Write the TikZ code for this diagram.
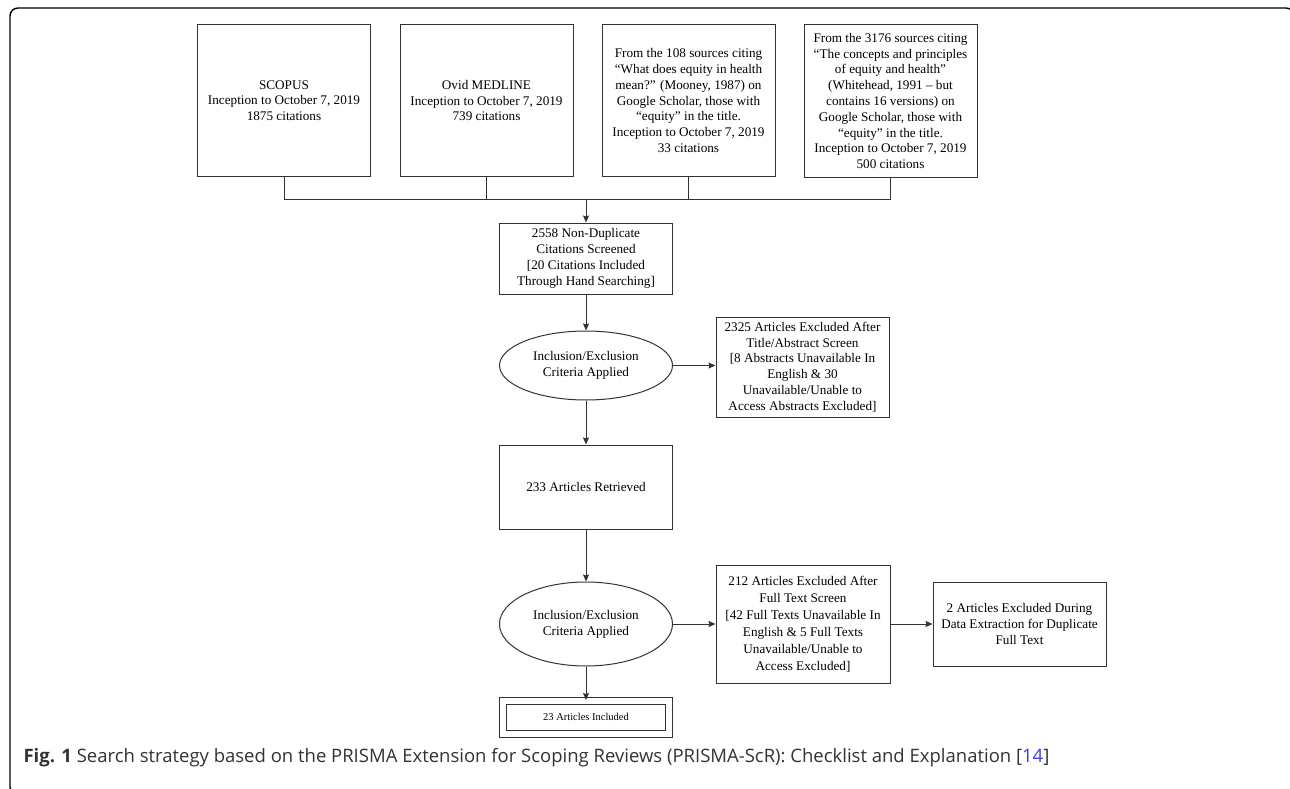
\documentclass[tikz,border=0pt]{standalone}
\usepackage{fontspec}
\setmainfont{Liberation Serif}
\newfontfamily\capfont{Open Sans}
\usepackage{xcolor}
\usetikzlibrary{shapes.geometric,arrows.meta}
\definecolor{linegray}{HTML}{333333}
\definecolor{captext}{HTML}{333333}
\definecolor{citeblue}{HTML}{3B3BF0}
\newcommand{\boxfont}{\fontsize{13.2}{15.8}\selectfont}

\tikzset{
  box/.style={draw=linegray, line width=1pt, rectangle, minimum width=173pt, inner sep=1pt, align=center, font=\boxfont},
  oval/.style={draw=linegray, line width=1pt, ellipse, minimum width=173pt, inner sep=0pt, align=center, font=\boxfont},
  link/.style={draw=linegray, line width=1pt},
  >={Stealth[length=7pt,width=6pt,inset=1pt]}
}

\begin{document}
\begin{tikzpicture}[x=1pt,y=-1pt]
            \useasboundingbox (0,0) rectangle (1290,789);
            \draw[line width=1.4pt, rounded corners=8pt] (10,8) rectangle (1294,795);

            \node[box, minimum height=151pt] (scopus) at (284,100.5) {SCOPUS\\Inception to October 7, 2019\\1875 citations};
            \node[box, minimum height=151pt] (medline) at (486.5,100.5) {Ovid MEDLINE\\Inception to October 7, 2019\\739 citations};
            \node[box, minimum height=151pt] (mooney) at (688.5,100.5) {From the 108 sources citing\\“What does equity in health\\mean?” (Mooney, 1987) on\\Google Scholar, those with\\“equity” in the title.\\Inception to October 7, 2019\\33 citations};
            \node[box, minimum height=152pt] (whitehead) at (890.5,101) {From the 3176 sources citing\\“The concepts and principles\\of equity and health”\\(Whitehead, 1991 – but\\contains 16 versions) on\\Google Scholar, those with\\“equity” in the title.\\Inception to October 7, 2019\\500 citations};
            \coordinate (bar) at (586,199);

            \node[box, minimum height=71pt] (screened) at (586,258.5) {2558 Non-Duplicate\\Citations Screened\\{[}20 Citations Included\\Through Hand Searching{]}};
            \node[oval, minimum height=69pt] (crit1) at (586,365.5) {Inclusion/Exclusion\\Criteria Applied};
            \node[box, minimum height=100pt] (excl1) at (802.5,367) {2325 Articles Excluded After\\Title/Abstract Screen\\{[}8 Abstracts Unavailable In\\English \& 30\\Unavailable/Unable to\\Access Abstracts Excluded{]}};
            \node[box, minimum height=84pt] (retrieved) at (586,487) {233 Articles Retrieved};
            \node[oval, minimum height=84pt] (crit2) at (586,624) {Inclusion/Exclusion\\Criteria Applied};
            \node[box, minimum width=174pt, minimum height=118pt, font=\fontsize{13.2}{17}\selectfont] (excl2) at (803,624) {212 Articles Excluded After\\Full Text Screen\\{[}42 Full Texts Unavailable In\\English \& 5 Full Texts\\Unavailable/Unable to\\Access Excluded{]}};
            \node[box, minimum height=84pt] (extract) at (1019.5,624) {2 Articles Excluded During\\Data Extraction for Duplicate\\Full Text};
            \node[box, double, double distance=6pt, minimum width=166pt, minimum height=33pt, font=\fontsize{10.5}{12}\selectfont] (included) at (586,717) {23 Articles Included};

            \node[anchor=west, text=captext, font=\capfont\fontsize{18.5}{20}\selectfont] (caption) at (20,758) {\textbf{Fig. 1} Search strategy based on the PRISMA Extension for Scoping Reviews (PRISMA-ScR): Checklist and Explanation [{\color{citeblue}14}]};

            \draw[link] (scopus.south) -- (scopus.south |- bar) -- (whitehead.south |- bar) -- (whitehead.south);
            \draw[link] (medline.south) -- (medline.south |- bar);
            \draw[link] (mooney.south) -- (mooney.south |- bar);
            \draw[link, ->] (bar) -- (screened);
            \draw[link, ->] (screened) -- (crit1);
            \draw[link, ->] (crit1.east) -- (crit1.east -| excl1.west);
            \draw[link, ->] (crit1) -- (retrieved);
            \draw[link, ->] (retrieved) -- (crit2);
            \draw[link, ->] (crit2) -- (excl2);
            \draw[link, ->] (excl2) -- (extract);
            \draw[link, ->] (crit2) -- (included);
        \end{tikzpicture}
\end{document}
